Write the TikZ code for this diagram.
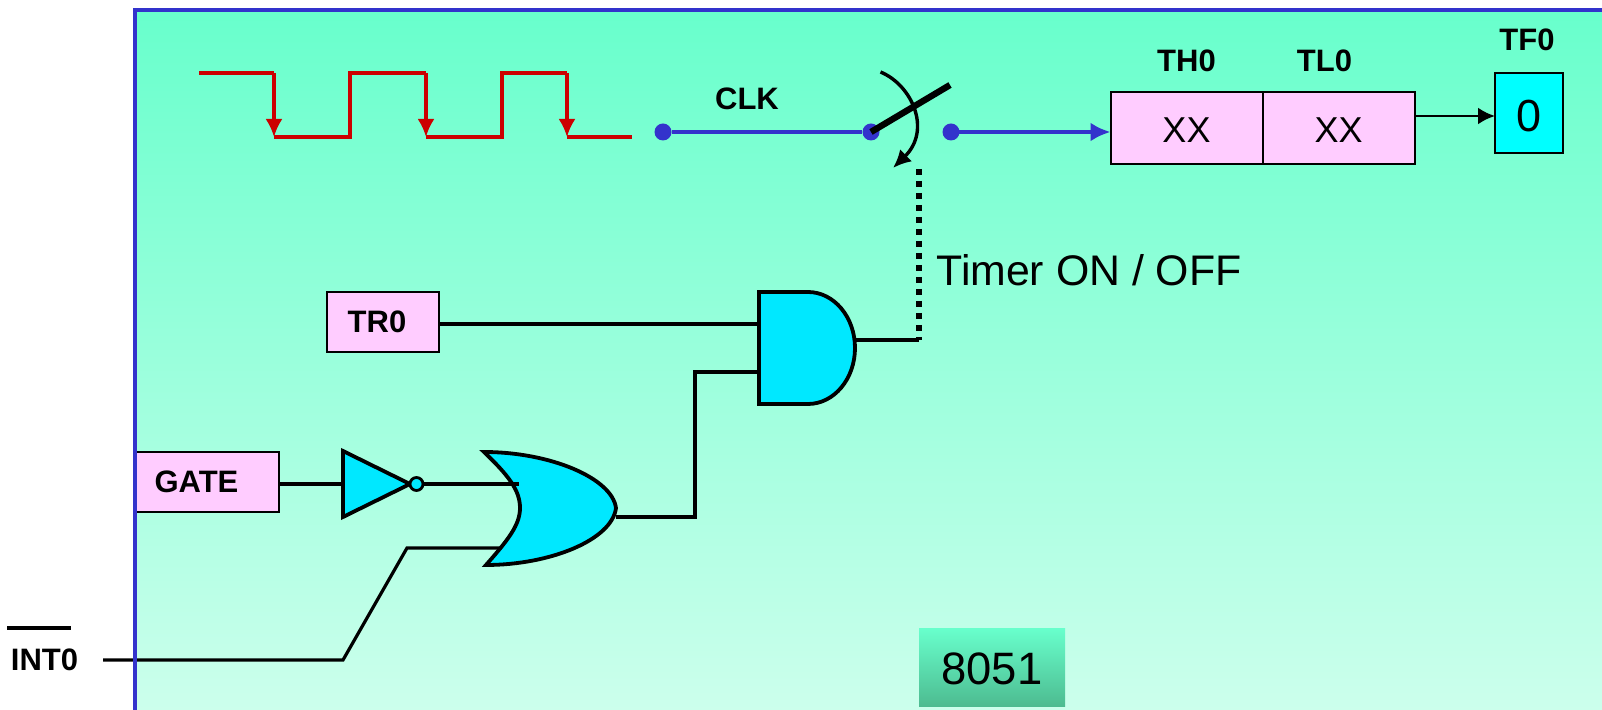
\documentclass[tikz,border=0pt]{standalone}
\usepackage{fontspec}
\setmainfont{Liberation Sans}
\usetikzlibrary{arrows.meta,positioning}
\definecolor{azulBorde}{HTML}{3333CC}
\definecolor{rojoReloj}{HTML}{CC0000}
\definecolor{rosaClaro}{HTML}{FFCCFF}
\definecolor{cianPuerta}{HTML}{00E8FF}
\definecolor{cianBandera}{HTML}{00FFFF}
\definecolor{verdeArriba}{HTML}{68FFCC}
\definecolor{verdeAbajo}{HTML}{CCFFEC}
\definecolor{verdeOscuro}{HTML}{4DBB90}

\begin{document}
\begin{tikzpicture}[
            x=0.5pt, y=-0.5pt,
            registro/.style={draw, line width=1pt, fill=rosaClaro, outer sep=0pt, inner sep=0pt, minimum width=76pt, minimum height=36pt, text height=14.9pt, text depth=0pt, font=\fontsize{18}{20}\selectfont},
            entrada/.style={draw, line width=0.8pt, fill=rosaClaro, outer sep=0pt, inner sep=0pt, font=\bfseries\fontsize{15.5}{18}\selectfont},
            etiqueta/.style={inner sep=0pt, font=\bfseries\fontsize{15.5}{18}\selectfont},
            punto/.style={circle, fill=azulBorde, inner sep=0pt, minimum size=8.5pt},
            puerta/.style={inner sep=0pt, outer sep=0pt},
            contorno/.style={draw, line width=1.9pt, fill=cianPuerta, line join=miter},
            cable/.style={line width=1.6pt},
            senal/.style={line width=1.9pt, rojoReloj},
            flanco/.style={-{Latex[length=9pt,width=8.5pt]}, line width=1.6pt, rojoReloj},
            flecha/.style={-{Latex[length=10pt,width=9.5pt]}, line width=2.4pt, azulBorde}
        ]
\useasboundingbox (0,0) rectangle (1602,710);
\shade[top color=verdeArriba, bottom color=verdeAbajo] (135,10) rectangle (1602,710);

% clock waveform
\draw[senal] (199,73) -- (274,73);
\draw[senal] (274,137) -- (350,137) -- (350,73) -- (426,73);
\draw[senal] (426,137) -- (502,137) -- (502,73) -- (567,73);
\draw[senal] (567,137) -- (632,137);
\foreach \x in {274,426,567}
    \draw[flanco] (\x,73) -- (\x,137);

% switch
\node[punto] (dotclk) at (663,132) {};
\node[punto] (dotsw) at (871,132) {};
\node[punto] (dotout) at (951,132) {};
\node[etiqueta] (clk) at (747,99) {CLK};
\coordinate (blade) at (950,85);
\coordinate (ctrl) at (919,169);
\draw[line width=2.4pt, azulBorde] (dotclk) -- (dotsw);
\draw[line width=3.2pt] (dotsw.center) -- (blade);
\draw[-{Latex[length=9pt,width=8.5pt]}, line width=1.7pt] (880.5,72) .. controls (912,85) and (932,130) .. (893,168);

% timer registers
\node[registro] (threg) at (1186.5,128) {XX};
\node[registro, right=0pt of threg] (tlreg) {XX};
\node[etiqueta, above=10pt of threg] (thlabel) {TH0};
\node[etiqueta, above=10pt of tlreg, xshift=-7pt] (tllabel) {TL0};
\node[draw, line width=1pt, fill=cianBandera, inner sep=0pt, outer sep=0pt, minimum width=34pt, minimum height=40pt, text height=19pt, text depth=0pt, font=\fontsize{22.5}{25}\selectfont] (tfbox) at (1529,113) {0};
\node[etiqueta, above=11pt of tfbox, xshift=-1pt] (tflabel) {TF0};
\draw[flecha] (dotout.center) -- (dotout.center -| threg.west);
\draw[-{Latex[length=8.5pt,width=8.5pt]}, line width=1.4pt] (tlreg.east |- 0,116) -- (tfbox.west |- 0,116);

% gates
\node[entrada, minimum width=56pt, minimum height=30pt] (tr0) at (383,322) {\hspace*{-6pt}TR0};
\node[entrada, minimum width=72pt, minimum height=30pt] (gate) at (207,482) {\hspace*{-10.5pt}GATE};
\node[puerta, minimum width=48pt, minimum height=56pt] (andg) at (807,348) {};
\node[puerta, minimum width=33.5pt, minimum height=33pt] (invg) at (376.5,484) {};
\node[puerta, minimum width=66pt, minimum height=56.5pt] (org) at (550,508.5) {};
\coordinate (andtop) at (759,324);
\coordinate (andin) at (695,372);
\coordinate (andout) at (919,340);
\coordinate (orin) at (407,548);
\coordinate (orout) at (695,517);
\coordinate (intbend) at (343,660);
\coordinate (intfree) at (103,660);

\draw[cable] (tr0.east |- andtop) -- (andtop);
\draw[cable] (andg.west |- andin) -- (andin) -- (orout) -- (616,517);
\draw[cable] (gate.east |- invg.west) -- (invg.west);
\draw[cable] (invg.east) -- (519,484);
\draw[cable] (intfree) -- (intbend) -- (orin) -- (504,548);
\draw[cable] (855,340) -- (andout);
\draw[line width=2.75pt, dash pattern=on 3pt off 3pt] (ctrl) -- (andout);

\draw[contorno] (759,292) -- (808,292) arc[start angle=90, end angle=-90, x radius=23.5pt, y radius=28pt] -- (759,404) -- cycle;
\draw[contorno] (343,451) -- (410,484) -- (343,517) -- cycle;
\node[circle, draw, line width=1.4pt, fill=cianPuerta, inner sep=0pt, minimum size=6.5pt] (bubble) at (416.5,484) {};
\fill[cianPuerta] (484,452) .. controls (550,452) and (612,478) .. (616,508) .. controls (612,540) and (550,565) .. (486,565) .. controls (508,540) and (520,525) .. (520,508) .. controls (520,490) and (508,475) .. (484,452) -- cycle;
\draw[cable] (500,484) -- (519,484);
\draw[line width=1.9pt] (484,452) .. controls (550,452) and (612,478) .. (616,508) .. controls (612,540) and (550,565) .. (486,565) .. controls (508,540) and (520,525) .. (520,508) .. controls (520,490) and (508,475) .. (484,452) -- cycle;

% border and free labels
\draw[line width=1.75pt, azulBorde] (135,710) -- (135,10) -- (1602,10);
\node[inner sep=0pt, font=\fontsize{21.4}{24}\selectfont] (timer) at (1089,270) {Timer ON / OFF};
\node[etiqueta] (int0) at (44.5,660) {INT0};
\draw[line width=1.8pt] (7,628) -- (70.5,628);
\node[top color=verdeArriba, bottom color=verdeOscuro, inner sep=0pt, outer sep=0pt, minimum width=73pt, minimum height=39pt, text height=17pt, text depth=0pt, font=\fontsize{22.7}{25}\selectfont] (chip) at (992,667.5) {8051};
\end{tikzpicture}
\end{document}
